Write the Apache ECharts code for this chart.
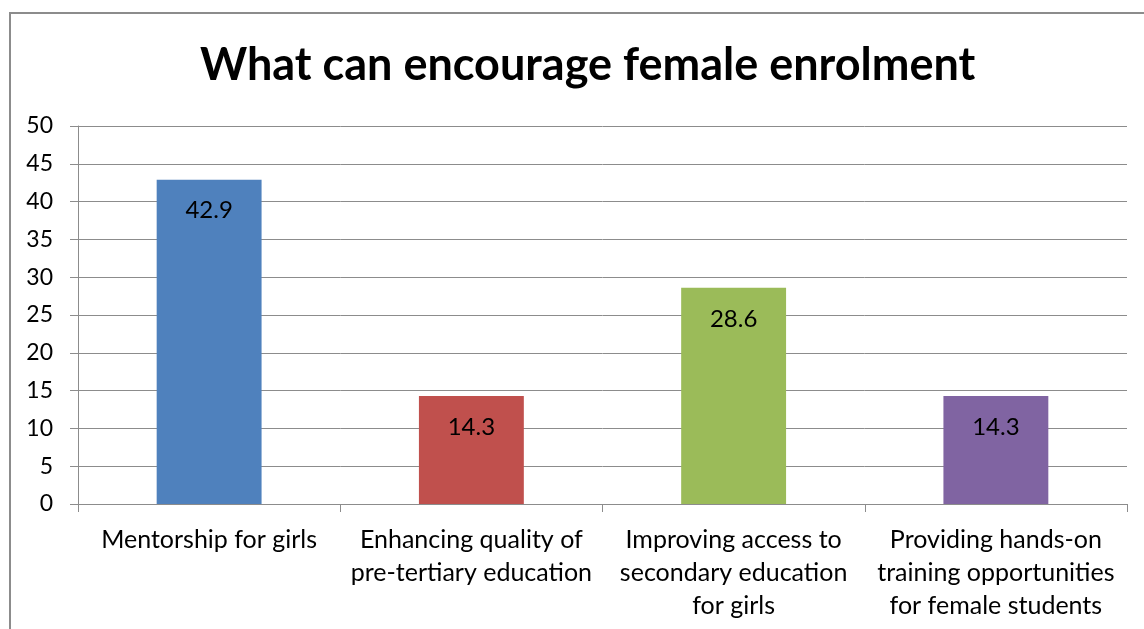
<!DOCTYPE html>
<html>
<head>
<meta charset="utf-8">
<script src="https://cdn.jsdelivr.net/npm/echarts@6/dist/echarts.min.js"></script>
<style>
  html, body { margin: 0; padding: 0; background: #fff; }
  #frame { position: absolute; left: 9px; top: 12px; width: 1140px; height: 630px;
           border-left: 2px solid #8c8c8c; border-top: 2px solid #8c8c8c; box-sizing: border-box; }
  #chart { position: absolute; left: 0; top: 0; width: 1144px; height: 629px; }
</style>
</head>
<body>
<div id="frame"></div>
<div id="chart"></div>
<script>
const titleText = 'What can encourage female enrolment';
const categories = [
  'Mentorship for girls',
  'Enhancing quality of\npre-tertiary education',
  'Improving access to\nsecondary education\nfor girls',
  'Providing hands-on\ntraining opportunities\nfor female students'
];
const values = [42.9, 14.3, 28.6, 14.3];
const barColors = ['#4F81BD', '#C0504D', '#9BBB59', '#8064A2'];
const yTicks = { min: 0, max: 50, interval: 5 };

const FONT = 'Lato, Carlito, "Open Sans", sans-serif';
const chart = echarts.init(document.getElementById('chart'), null, { renderer: 'canvas' });

chart.setOption({
  backgroundColor: 'transparent',
  animation: false,
  title: {
    text: titleText,
    left: 195, top: 38,
    textStyle: { fontFamily: FONT, fontWeight: 'bold', fontSize: 45, color: '#000' }
  },
  grid: { left: 78, right: 17, top: 126, bottom: 125, containLabel: false },
  xAxis: {
    type: 'category',
    data: categories,
    axisLine: { lineStyle: { color: '#8c8c8c', width: 1 } },
    axisTick: { show: true, length: 8, alignWithLabel: false, lineStyle: { color: '#8c8c8c' } },
    axisLabel: { fontFamily: FONT, fontSize: 25, color: '#000', margin: 19, lineHeight: 33, interval: 0 }
  },
  yAxis: {
    type: 'value',
    min: yTicks.min, max: yTicks.max, interval: yTicks.interval,
    axisLine: { show: true, lineStyle: { color: '#8c8c8c', width: 1 } },
    axisTick: { show: true, length: 8, lineStyle: { color: '#8c8c8c' } },
    axisLabel: { fontFamily: FONT, fontSize: 23, color: '#000', margin: 25 },
    splitLine: { lineStyle: { color: '#8c8c8c', width: 1 } }
  },
  series: [{
    type: 'bar',
    barWidth: '40%',
    data: values.map((v, i) => ({ value: v, itemStyle: { color: barColors[i] } })),
    label: {
      show: true, position: 'insideTop', distance: 19,
      fontFamily: FONT, fontSize: 24, color: '#000',
      formatter: p => p.value.toFixed(1)
    }
  }]
});
</script>
</body>
</html>
